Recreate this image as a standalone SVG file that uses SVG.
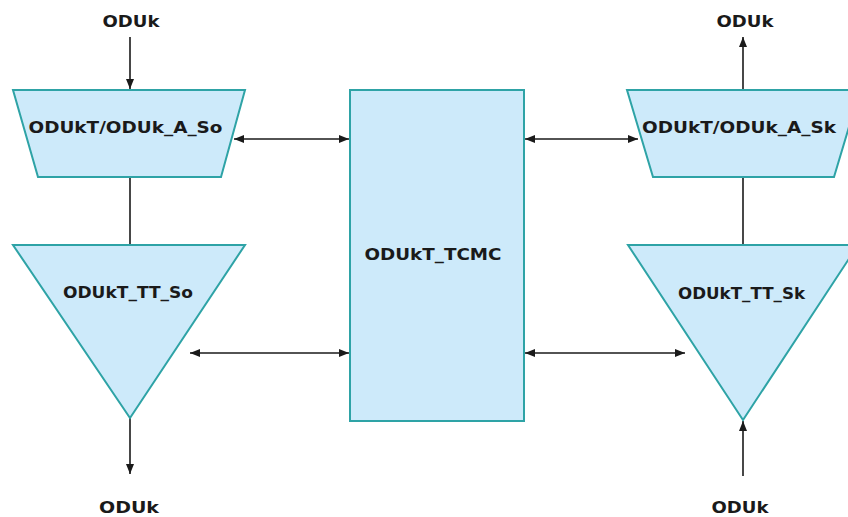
<svg xmlns="http://www.w3.org/2000/svg" width="848" height="517" viewBox="0 0 848 517">
<style>
.shape{fill:#cdeafa;stroke:#2ea3a6;stroke-width:2}
.lbl{font-family:"DejaVu Sans","Liberation Sans",sans-serif;font-weight:bold;font-size:15px;fill:#1a1a1a;text-anchor:middle}
.io{font-family:"DejaVu Sans","Liberation Sans",sans-serif;font-weight:bold;font-size:16px;fill:#1a1a1a;text-anchor:middle}
.conn{stroke:#1a1a1a;stroke-width:1.6;fill:none}
</style>
<defs>
<marker id="ah" viewBox="0 0 10 8" refX="10" refY="4" markerWidth="11" markerHeight="8" markerUnits="userSpaceOnUse" orient="auto-start-reverse">
<path d="M0,0 L10,4 L0,8 z" fill="#1a1a1a"/>
</marker>
</defs>
<rect width="848" height="517" fill="#ffffff"/>
<g id="connectors">
<line class="conn" x1="130" y1="37" x2="130" y2="89" marker-end="url(#ah)"/>
<line class="conn" x1="130" y1="177" x2="130" y2="245"/>
<line class="conn" x1="130" y1="418" x2="130" y2="474" marker-end="url(#ah)"/>
<line class="conn" x1="234" y1="139" x2="349" y2="139" marker-start="url(#ah)" marker-end="url(#ah)"/>
<line class="conn" x1="190" y1="353" x2="349" y2="353" marker-start="url(#ah)" marker-end="url(#ah)"/>
<line class="conn" x1="525" y1="139" x2="638" y2="139" marker-start="url(#ah)" marker-end="url(#ah)"/>
<line class="conn" x1="525" y1="353" x2="685" y2="353" marker-start="url(#ah)" marker-end="url(#ah)"/>
<line class="conn" x1="743" y1="90" x2="743" y2="37" marker-end="url(#ah)"/>
<line class="conn" x1="743" y1="177" x2="743" y2="245"/>
<line class="conn" x1="743" y1="476" x2="743" y2="421" marker-end="url(#ah)"/>
</g>
<g id="in-top-left"><text class="io" x="131" y="27" textLength="57" lengthAdjust="spacingAndGlyphs">ODUk</text></g>
<g id="out-bottom-left"><text class="io" x="129" y="513" textLength="60" lengthAdjust="spacingAndGlyphs">ODUk</text></g>
<g id="out-top-right"><text class="io" x="745" y="27" textLength="57" lengthAdjust="spacingAndGlyphs">ODUk</text></g>
<g id="in-bottom-right"><text class="io" x="740" y="513" textLength="57" lengthAdjust="spacingAndGlyphs">ODUk</text></g>
<g id="a-so">
<polygon class="shape" points="13,90 245,90 221,177 38,177"/>
<text class="lbl" x="125.5" y="133" textLength="194" lengthAdjust="spacingAndGlyphs">ODUkT/ODUk_A_So</text>
</g>
<g id="tt-so">
<polygon class="shape" points="13,245 245,245 130,418"/>
<text class="lbl" x="128" y="298" textLength="130" lengthAdjust="spacingAndGlyphs">ODUkT_TT_So</text>
</g>
<g id="tcmc">
<rect class="shape" x="350" y="90" width="174" height="331"/>
<text class="lbl" x="433" y="260" textLength="137" lengthAdjust="spacingAndGlyphs">ODUkT_TCMC</text>
</g>
<g id="a-sk">
<polygon class="shape" points="627,90 860,90 834,177 653,177"/>
<text class="lbl" x="739" y="133" textLength="194" lengthAdjust="spacingAndGlyphs">ODUkT/ODUk_A_Sk</text>
</g>
<g id="tt-sk">
<polygon class="shape" points="628,245 858,245 743,420"/>
<text class="lbl" x="741.5" y="299" textLength="127" lengthAdjust="spacingAndGlyphs">ODUkT_TT_Sk</text>
</g>
</svg>
